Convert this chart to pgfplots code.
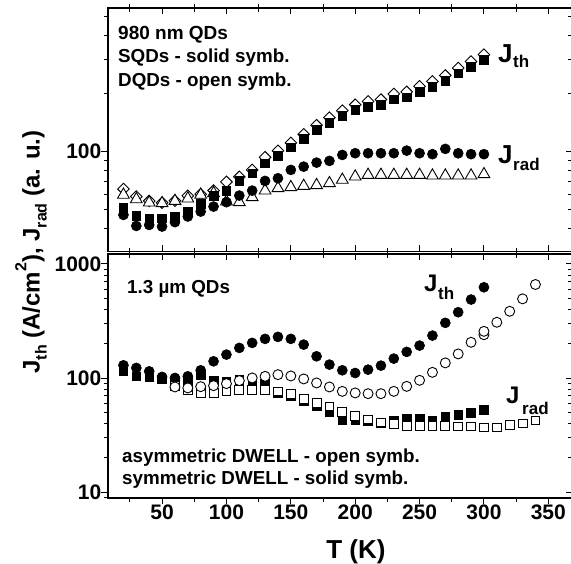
\documentclass[border=0pt]{standalone}
\usepackage{fontspec}
\setmainfont{Liberation Sans}
\usepackage{pgfplots}
\pgfplotsset{compat=1.18}
\newcommand{\fs}[1]{\fontsize{#1}{#1}\selectfont\bfseries}

\pgfplotsset{
  every axis/.append style={
    scale only axis, width=464pt, xmin=8, xmax=368.4,
    xtick={50,100,...,350}, minor xtick={25,75,...,375},
    axis line style={line width=1.2pt},
    major tick length=6.5pt, minor tick length=4pt,
    tick style={black, line width=1pt},
    tick label style={font=\fs{21}, inner sep=0pt},
  },
  msolid/.style={only marks, black, mark size=#1, line width=0.6pt},
  mopen/.style={only marks, black, mark size=#1, line width=0.9pt, mark options={fill=white}},
}

\begin{document}
\begin{tikzpicture}

% 980 nm QDs
\begin{axis}[ymode=log, height=243.7pt, ymin=30.3, ymax=555, at={(0pt,246.3pt)},
  ytick={100}, minor ytick={40,50,60,70,80,90,200,300,400,500},
  tick align=outside, ytick pos=left, xmajorticks=false, xminorticks=false,
  yticklabels={100}]
% DQDs Jth
\addplot[mopen=4.1pt, mark=square*, mark options={rotate=45, fill=white}] coordinates {
(20,64) (30,58.5) (40,55.5) (50,54.4) (60,55.7) (70,59) (80,60.2) (90,62.8)
(100,69.7) (110,74) (120,80.4) (130,93.5) (140,101) (150,111) (160,123) (170,137)
(180,150) (190,163) (200,175) (210,182) (220,186) (230,199) (240,204) (250,218)
(260,231) (270,248) (280,271) (290,293) (300,318)};
% DQDs Jrad
\addplot[mopen=6.8pt, mark=triangle*] coordinates {
(20,59.7) (30,56.6) (40,54.4) (50,54) (60,55.5) (70,57.1) (80,59.7) (90,60.9)
(100,55.1) (110,54.7) (120,58) (130,62.8) (140,64.6) (150,65.4) (160,66.4) (170,67)
(180,68.6) (190,71.4) (200,74.2) (210,75.7) (220,75.7) (230,75.7) (240,75.7) (250,75.7)
(260,75.1) (270,75.1) (280,75.1) (290,75.1) (300,76.3)};
% SQDs Jth
\addplot[msolid=4.3pt, mark=square*] coordinates {
(20,51.3) (30,46.4) (40,45.2) (50,45.2) (60,46.1) (70,48.9) (80,53.6) (90,59)
(100,62.8) (110,70.5) (120,77.3) (130,87.1) (140,95.3) (150,105.4) (160,116.8) (170,129.5)
(180,141.4) (190,153) (200,164.4) (210,171) (220,174.6) (230,186.8) (240,191.4) (250,204.6)
(260,217.2) (270,233.3) (280,254.7) (290,275.6) (300,298.5)};
% SQDs Jrad
\addplot[msolid=5pt, mark=*] coordinates {
(20,47) (30,41.2) (40,41.7) (50,40.9) (60,43.1) (70,46.1) (80,48.9) (90,51.9)
(100,54.7) (110,59.2) (120,62.8) (130,70.5) (140,72.8) (150,80.4) (160,83.6) (170,87.7)
(180,89.5) (190,96.1) (200,98.1) (210,98.1) (220,98.1) (230,98.1) (240,101.2) (250,98.1)
(260,97) (270,103.3) (280,98) (290,97) (300,97)};
\end{axis}
\begin{axis}[ymode=log, height=243.7pt, ymin=30.3, ymax=555, at={(0pt,246.3pt)},
  ytick={100}, minor ytick={40,50,60,70,80,90,200,300,400,500},
  tick align=inside, xtick pos=both, ytick pos=right,
  xticklabels={}, yticklabels={}]
\end{axis}

% 1.3 um QDs
\begin{axis}[ymode=log, height=244pt, ymin=8.915, ymax=1223,
  ytick={10,100,1000},
  minor ytick={9,20,30,40,50,60,70,80,90,200,300,400,500,600,700,800,900},
  tick align=outside, xtick pos=left, ytick pos=left,
  xticklabels={50,100,150,200,250,300,350}, yticklabels={10,100,1000}]
% symmetric Jrad
\addplot[msolid=4.3pt, mark=square*] coordinates {
(20,116.4) (30,103.7) (40,101.6) (50,97.6) (60,95.1) (70,93.7) (80,107.3) (90,96)
(100,93.7) (110,97) (120,95.1) (130,90.4) (140,74.6) (150,70.2) (160,63.5) (170,56.8)
(180,50.8) (190,42.6) (200,42.9) (210,42.4) (220,40.5) (230,42.6) (240,43.9) (250,43.9)
(260,42.6) (270,45.7) (280,47.6) (290,49.8) (300,52.9)};
% symmetric Jth
\addplot[msolid=5pt, mark=*] coordinates {
(20,129.5) (30,122.9) (40,114.7) (50,102.5) (60,100.4) (70,103.7) (80,117.1) (90,140.4)
(100,160.8) (110,184) (120,203.6) (130,220.7) (140,229.8) (150,220.7) (160,196.7) (170,155.3)
(180,131.4) (190,117.1) (200,110.9) (210,118.7) (220,128.7) (230,148.3) (240,169.8) (250,192.9)
(260,235.9) (270,305) (280,378) (290,488) (300,625)};
% asymmetric Jrad
\addplot[mopen=4.4pt, mark=square*] coordinates {
(60,85.9) (70,78.2) (80,74.2) (90,74.2) (100,76.6) (110,79.3) (120,79.3) (130,79.3)
(140,76.6) (150,72.4) (160,66.1) (170,60.9) (180,56.6) (190,50.3) (200,46.6) (210,43.5)
(220,40.9) (230,39.9) (240,38.3) (250,38.3) (260,38.3) (270,38.3) (280,37.8) (290,37.8)
(300,37) (310,37) (320,38.7) (330,40.1) (340,42.6)};
% asymmetric Jth
\addplot[mopen=5pt, mark=*] coordinates {
(60,83.7) (70,82.1) (80,84.2) (90,85.9) (100,89.5) (110,95.1) (120,100.4) (130,103.7)
(140,107.3) (150,104.5) (160,98.4) (170,90.8) (180,83.7) (190,76.6) (200,74.2) (210,73.1)
(220,73.1) (230,76.6) (240,84.7) (250,95.7) (260,112.4) (270,136) (280,163) (290,206)
(300,240) (300,257) (310,308.5) (320,385) (330,495) (340,661)};
\end{axis}
\begin{axis}[ymode=log, height=244pt, ymin=8.915, ymax=1223,
  ytick={10,100,1000},
  minor ytick={9,20,30,40,50,60,70,80,90,200,300,400,500,600,700,800,900},
  tick align=inside, xtick pos=right, ytick pos=right,
  xticklabels={}, yticklabels={}]
\end{axis}

% texts, placed in pixel coordinates of the reference
\begin{scope}[shift={(-108pt,498pt)}, x=1pt, y=-1pt]
\node[anchor=base west, inner sep=0] at (118,39.3) {\fs{19}980 nm QDs};
\node[anchor=base west, inner sep=0] at (118,63) {\fs{18.8}SQDs - solid symb.};
\node[anchor=base west, inner sep=0] at (118,86.5) {\fs{18.8}DQDs - open symb.};
\node[anchor=base west, inner sep=0] at (127,294) {\fs{18.8}1.3 µm QDs};
\node[anchor=base west, inner sep=0] at (122,462.3) {\fs{18.8}asymmetric DWELL - open symb.};
\node[anchor=base west, inner sep=0] at (122,485) {\fs{18.8}symmetric DWELL - solid symb.};
% curve labels
\node[anchor=base west, inner sep=0] at (498,62.7) {\fs{26}J};
\node[anchor=base west, inner sep=0] at (513,67.7) {\fs{17}th};
\node[anchor=base west, inner sep=0] at (498,163.3) {\fs{26}J};
\node[anchor=base west, inner sep=0] at (513,171) {\fs{17}rad};
\node[anchor=base west, inner sep=0] at (424,291.7) {\fs{24}J};
\node[anchor=base west, inner sep=0] at (438,300) {\fs{17}th};
\node[anchor=base west, inner sep=0] at (506,403.3) {\fs{24}J};
\node[anchor=base west, inner sep=0] at (522,415) {\fs{17}rad};
% axis titles
\node[anchor=base, inner sep=0] at (356,558.3) {\fs{26}T (K)};
\node[rotate=90, inner sep=0] at (31,252) {\fs{24}J\raisebox{-0.3em}{\fs{16}th} (A/cm\raisebox{0.55em}{\fs{16}2}), J\raisebox{-0.3em}{\fs{16}rad} (a. u.)};
\end{scope}

\pgfresetboundingbox
\useasboundingbox (-108pt,-66pt) rectangle (463pt,498pt);
\end{tikzpicture}
\end{document}
